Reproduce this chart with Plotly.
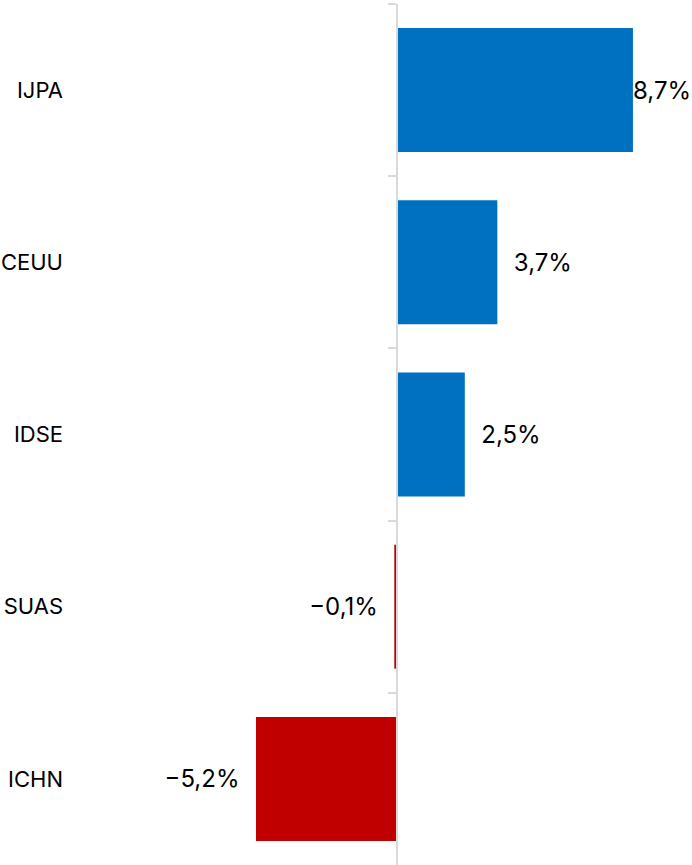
import plotly.graph_objects as go

categories = ["IJPA", "CEUU", "IDSE", "SUAS", "ICHN"]
values = [8.7, 3.7, 2.5, -0.1, -5.2]

POS_COLOR = "#0070C0"
NEG_COLOR = "#C00000"
AXIS_COLOR = "#D9D9D9"
FONT = "Inter"

W, H = 692, 865
ML, MR, MT, MB = 70, 0, 4, 0
PX_PER_UNIT = 27.12
ZERO_PX = 397
xmin = -(ZERO_PX - ML) / PX_PER_UNIT
xmax = (W - MR - ZERO_PX) / PX_PER_UNIT
zero_frac = (0 - xmin) / (xmax - xmin)
n = len(categories)
yrange = [n - 0.5, -0.5]

NB = "\u00a0"
vmax = max(values)


def fmt(v):
    s = f"{abs(v):.1f}".replace(".", ",") + "%"
    return ("\u2212" + s) if v < 0 else s


bar_text = []
for v in values:
    s = fmt(v)
    if v == vmax:
        bar_text.append("")
    elif v < 0:
        bar_text.append(s + NB * 2)
    else:
        bar_text.append(NB * 2 + s)

colors = [POS_COLOR if v >= 0 else NEG_COLOR for v in values]

fig = go.Figure()
fig.add_trace(go.Bar(
    x=values, y=categories, orientation="h",
    marker=dict(color=colors, line=dict(width=0)),
    text=bar_text, textposition="outside",
    textfont=dict(family=FONT, size=24, color="#000000"),
    cliponaxis=False, constraintext="none",
    hoverinfo="skip",
))
fig.add_trace(go.Scatter(
    x=[0] * n, y=categories, yaxis="y2",
    mode="markers", marker=dict(opacity=0), hoverinfo="skip", showlegend=False,
))

# label of the longest bar sits flush against the bar end (as in the reference)
imax = values.index(vmax)
fig.add_annotation(
    x=vmax, y=categories[imax], xref="x", yref="y",
    text=fmt(vmax), showarrow=False, xanchor="left", yanchor="middle",
    xshift=-2, font=dict(family=FONT, size=24, color="#000000"),
)

fig.update_layout(
    width=W, height=H,
    margin=dict(l=ML, r=MR, t=MT, b=MB, autoexpand=False),
    paper_bgcolor="white", plot_bgcolor="white",
    showlegend=False,
    bargap=0.28,
    font=dict(family=FONT, color="#000000"),
    xaxis=dict(range=[xmin, xmax], visible=False, showgrid=False, zeroline=False,
               automargin=False),
    yaxis=dict(
        type="category", categoryorder="array", categoryarray=categories,
        range=yrange, showline=False, ticks="", showgrid=False,
        tickfont=dict(family=FONT, size=22, color="#000000"),
        ticklabelstandoff=6, automargin=False,
    ),
    yaxis2=dict(
        type="category", categoryorder="array", categoryarray=categories,
        range=yrange, overlaying="y", anchor="free", position=zero_frac,
        side="left", showline=True, linecolor=AXIS_COLOR, linewidth=2,
        ticks="outside", tickson="boundaries", ticklen=8, tickwidth=2,
        tickcolor=AXIS_COLOR, showticklabels=False, showgrid=False,
        automargin=False,
    ),
)

fig.write_html(
    "out.html",
    config={"displayModeBar": False},
    post_script="document.body.style.margin='0';document.body.style.overflow='hidden';",
)
